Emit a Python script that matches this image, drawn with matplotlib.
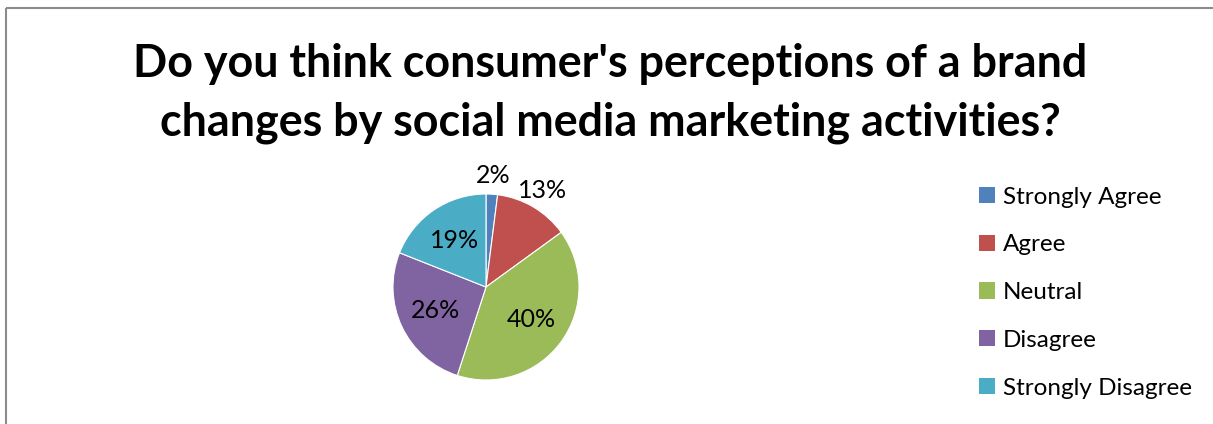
"""Pie chart: perception of brand changes by social media marketing."""

import numpy as np
import matplotlib

matplotlib.use("Agg")
import matplotlib.pyplot as plt
from matplotlib.lines import Line2D
from matplotlib.patches import Patch

title = "Do you think consumer's perceptions of a brand\nchanges by social media marketing activities?"
categories = ["Strongly Agree", "Agree", "Neutral", "Disagree", "Strongly Disagree"]
shares = [2, 13, 40, 26, 19]
colors = ["#4F81BD", "#C0504D", "#9BBB59", "#8064A2", "#4BACC6"]

plt.rcParams["font.family"] = ["Lato", "DejaVu Sans"]

fig = plt.figure(figsize=(12.13, 4.24), dpi=100)
fig.patch.set_facecolor("white")

# chart-area border (only top and left are visible in the crop)
border = dict(transform=fig.transFigure, color="#8c8c8c", linewidth=1.5, solid_capstyle="butt")
fig.add_artist(Line2D([6 / 1213, 6 / 1213], [0, 1 - 8 / 424], **border))
fig.add_artist(Line2D([6 / 1213, 1], [1 - 8 / 424, 1 - 8 / 424], **border))

fig.text(0.503, 0.78, title, ha="center", va="center", fontsize=32.3, fontweight="bold",
         linespacing=1.5)

ax = fig.add_axes([(486 - 93) / 1213, (424 - 380) / 424, 186 / 1213, 186 / 424])
wedges, _ = ax.pie(shares, colors=colors, startangle=90, counterclock=False,
                   wedgeprops=dict(edgecolor="white", linewidth=0.8))
ax.set_xlim(-1, 1)
ax.set_ylim(-1, 1)

for wedge, value in zip(wedges, shares):
    mid = np.deg2rad((wedge.theta1 + wedge.theta2) / 2)
    dist = 1.2 if value < 15 else 0.6
    ax.text(dist * np.cos(mid), dist * np.sin(mid), f"{value}%", ha="center", va="center",
            fontsize=18)

handles = [Patch(facecolor=c, edgecolor="none") for c in colors]
fig.legend(handles, categories, loc="center left", bbox_to_anchor=(0.789, 0.31),
           frameon=False, fontsize=17.5, handlelength=0.66, handleheight=0.66,
           handletextpad=0.33, labelspacing=1.1)

fig.savefig("out.png", dpi=100)
